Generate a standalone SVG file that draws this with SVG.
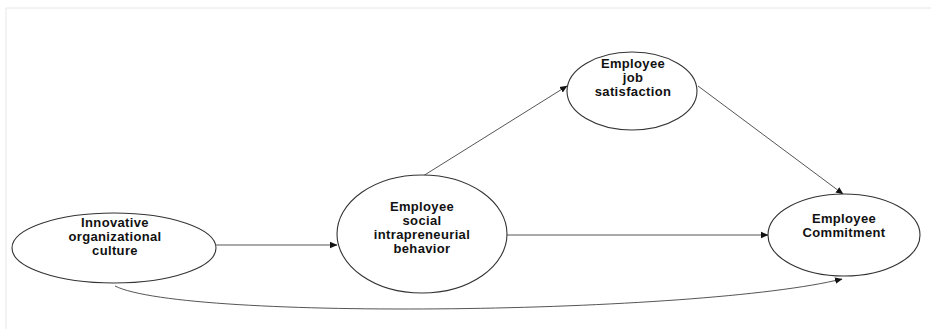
<svg xmlns="http://www.w3.org/2000/svg" width="931" height="329" viewBox="0 0 931 329">
<style>
.node ellipse{fill:#fff;stroke:#333;stroke-width:1.1}
.node text{font-family:"Liberation Sans",Arial,sans-serif;font-weight:bold;font-size:13px;letter-spacing:0.35px;fill:#111;text-anchor:middle}
.edge{fill:none;stroke:#555;stroke-width:1}
</style>
<defs>
<marker id="ah" markerWidth="8" markerHeight="8" refX="7" refY="4" orient="auto" markerUnits="userSpaceOnUse">
<path d="M0,0.8 L7.5,4 L0,7.2 Z" fill="#111"/>
</marker>
</defs>
<rect x="0" y="0" width="931" height="329" fill="#fff"/>
<path d="M6,329 L6,8 L931,8" fill="none" stroke="#e6e6e6" stroke-width="1"/>
<g id="connectors">
<path class="edge" d="M213,245 L337,245" marker-end="url(#ah)"/>
<path class="edge" d="M507,235 L768,235" marker-end="url(#ah)"/>
<path class="edge" d="M423,176 L567,86" marker-end="url(#ah)"/>
<path class="edge" d="M698,86 L843,194" marker-end="url(#ah)"/>
<path class="edge" d="M115,286 C185,321 700,314 842,279" marker-end="url(#ah)"/>
</g>
<g id="n1" class="node">
<ellipse cx="114" cy="248" rx="102" ry="35"/>
<text x="115" y="227">Innovative</text>
<text x="115" y="241">organizational</text>
<text x="115" y="255">culture</text>
</g>
<g id="n2" class="node">
<ellipse cx="422" cy="234" rx="85" ry="59"/>
<text x="422" y="211">Employee</text>
<text x="422" y="225">social</text>
<text x="422" y="239">intrapreneurial</text>
<text x="422" y="253">behavior</text>
</g>
<g id="n3" class="node">
<ellipse cx="632" cy="91" rx="65" ry="39"/>
<text x="633" y="68">Employee</text>
<text x="633" y="82">job</text>
<text x="633" y="96">satisfaction</text>
</g>
<g id="n4" class="node">
<ellipse cx="844" cy="235" rx="76" ry="41"/>
<text x="844" y="223">Employee</text>
<text x="844" y="237">Commitment</text>
</g>
</svg>
